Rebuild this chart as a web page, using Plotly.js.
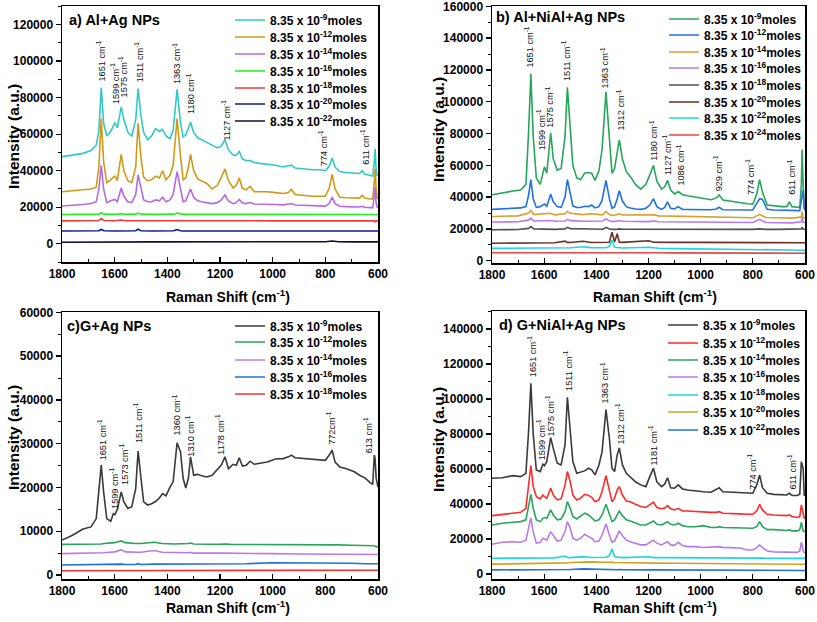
<!DOCTYPE html>
<html><head><meta charset="utf-8">
<script src="https://cdn.plot.ly/plotly-3.0.1.min.js"></script>
<style>html,body{margin:0;padding:0;background:#fff;}#chart{width:817px;height:622px;}</style>
</head><body><div id="chart"></div>
<script>
// ---------- DATA ----------
const shift = [1800,1760,1720,1690,1670,1660,1651,1642,1630,1615,1605,1599,1590,
 1575,1565,1550,1535,1520,1511,1500,1490,1475,1460,1445,1430,1418,
 1405,1390,1378,1363,1350,1340,1330,1320,1312,1300,1285,1270,1250,
 1230,1210,1195,1181,1168,1150,1138,1127,1115,1100,1086,1070,1050,
 1020,990,960,940,929,915,880,850,820,800,785,774,763,
 745,720,690,670,660,650,630,620,614,611,607,603,600];
const shiftCoarse = [1800,1700,1660,1651,1640,1600,1575,1560,1520,1511,1500,1450,
 1420,1375,1363,1350,1340,1330,1320,1312,1300,1200,1180,1160,
 1100,1000,900,800,774,750,700,650,614,611,607,600];

// panel a
const aCyan = [47700,48500,49500,51000,54000,62000,85500,66000,59000,61500,64500,66400,63500,
 75000,68000,61000,59000,68000,85000,70000,61000,57000,59000,63000,61500,62500,
 59000,57500,62000,84500,66000,58500,59500,63000,66500,61000,58000,57000,55500,
 54000,52500,53500,57000,51500,48500,48500,50500,46500,45500,45500,44500,44000,
 43500,43000,42000,42500,43000,41500,41000,40500,40500,40000,42500,47000,42000,
 39500,39000,38500,38500,40000,38000,37500,37000,45000,52000,40000,37000,38000];
const aGold = [28500,29000,29500,30000,31000,42000,68500,45000,33500,35000,36500,37000,34500,
 49000,40000,34500,33500,42000,66000,47000,36500,34500,35000,37000,36000,40000,
 35000,37500,43000,68500,48000,35000,36000,42000,49000,40000,35500,34500,33000,
 30000,32000,36500,41000,34500,30500,32000,36000,30500,29500,31500,28500,28500,
 28500,28000,27500,28000,29800,27000,26500,26000,26000,26000,30500,38000,30000,
 25500,25200,25000,25000,26500,25000,24500,24500,34000,41000,30000,25000,25000];
const aViolet = [20700,21000,21500,22000,23000,30000,43000,30000,22500,23500,24000,24300,23000,
 30500,26000,23000,22500,27000,37700,30000,24000,23000,23000,24000,23500,25500,
 23000,24000,27000,39500,29000,23000,23500,27000,30000,25500,23500,23000,22500,
 22000,22500,24000,26700,23500,22000,22500,24300,22300,22000,22600,21800,21800,
 21600,21500,21300,21500,22000,21200,21000,20800,20700,20600,22000,25500,22000,
 20500,20300,20200,20100,20500,20000,19800,19800,26000,31000,22000,20000,20000];
const aLime = [16000,16100,16200,17000,16200,16100,16400,16100,16200,16800,16200,16100,
 16200,16200,16800,16200,16100,16100,16100,16300,16100,16100,16200,16100,
 16100,16100,16000,16000,16200,16000,16000,16000,16100,16300,16000,16000];
const aRed = [12500,12600,12700,13800,12700,12600,13000,12600,12600,12900,12600,12600,
 12600,12600,13000,12600,12600,12600,12600,12700,12600,12600,12600,12600,
 12600,12500,12500,12500,12600,12500,12500,12500,12500,12000,12500,12500];
const aNavy = [7000,7000,7100,7800,7100,7000,7100,7000,7100,8000,7100,7000,
 7000,7100,7800,7100,7000,7000,7000,7100,7000,7000,7000,7000,
 7000,7000,7000,7000,7000,7000,7000,7000,7000,7100,7000,7000];
const aBlack = [800,900,1000,1200,1000,1000,1100,1000,1100,1200,1100,1000,
 1000,1000,1200,1000,1000,1000,1000,1100,1000,1100,1100,1000,
 1000,1000,1000,1100,1500,1100,1000,1000,1000,1200,1000,1000];

// panel b
const bGreen = [41500,42800,43800,44500,48000,80000,117500,78000,52000,48000,54000,59000,55000,
 80500,64000,57000,58000,78000,109000,84000,60000,52000,51000,55000,55500,55000,
 50500,56500,70000,106000,73000,55000,58000,68000,76000,64000,56000,53000,48000,
 45000,48000,54000,60000,50000,45000,46500,50500,44500,42000,43500,41500,40800,
 40000,39200,38300,39500,41300,38200,37200,36500,35800,35600,42000,51000,43000,
 35000,34500,34000,34000,37000,34000,33500,33500,48000,70000,48000,33000,33000];
const bBlue = [32300,32600,32900,33200,34000,41000,51000,39000,33500,34000,35000,35700,34200,
 41800,37000,34000,33500,40000,51000,43000,34500,33500,33500,34200,34000,35000,
 33200,34000,38000,50500,39000,33000,34000,39000,44000,37500,34000,33200,32500,
 32300,33000,35000,39000,34000,32300,33500,37000,33000,32500,34000,32300,32200,
 32200,32000,32000,32500,33600,32000,32000,31900,31900,31900,36000,39000,38500,
 32300,31900,31800,31700,32000,31600,31500,31500,38000,42000,44500,33000,31500];
const bGold = [27800,28200,30000,31500,29000,29500,29800,28800,29500,31000,29800,29000,
 29500,28800,31000,29000,28500,28600,29000,29500,28700,28500,28800,28200,
 28000,27800,27500,27000,29000,27200,27000,26800,27500,31000,27000,26500];
const bViolet = [24300,24500,25500,26800,25000,25000,25300,24800,25000,26000,25200,24800,
 25000,25000,26300,25000,24700,24700,24900,25300,24800,24600,25000,24500,
 24400,24300,24200,24000,26000,24000,23900,23800,24500,27000,24000,24000];
const bGray = [19500,19600,20300,21500,20000,19800,20000,19700,20000,21000,20200,19800,
 19900,19800,21000,19900,19700,19700,19800,20000,19800,19700,19900,19700,
 19700,19700,19700,19700,20000,19700,19700,19700,20000,21000,19800,19700];
const bBrown = [11000,11200,11300,11300,11300,11300,11400,11300,12300,11500,11400,12200,
 11400,11500,11500,11600,18000,11800,17000,11600,11500,12500,11600,11500,
 11500,11500,11500,11500,11500,11500,11600,11400,11400,11500,11300,11300];
const bCyan = [7800,7900,7900,7900,7900,7800,7800,7800,8300,8200,8100,8800,
 8200,8100,8200,9000,13000,8500,8200,8100,8000,8500,8000,7800,
 7600,7500,7300,7200,7200,7000,6800,6700,6600,6600,6500,6500];
const bRed = [5000,5000,5100,5400,5100,5000,5000,5000,5100,5300,5100,5100,
 5000,5000,5300,5100,5000,5000,5000,5100,5000,5000,5000,5000,
 4900,4900,4900,4800,4800,4800,4800,4800,4800,4800,4800,4700];

// panel c
const cBlack = [8000,9100,10500,11000,12900,19000,25100,19000,12900,12300,14000,13800,15000,
 19000,16700,15200,15600,19800,28300,22100,16700,16000,16300,16800,17600,18600,
 18100,20100,21300,30200,28100,22100,19900,22100,27000,22800,23000,22700,22400,
 22800,24000,25100,27000,24300,25300,25100,26800,24900,25100,26000,25300,25500,
 25800,26500,26600,27000,27400,26800,26600,26500,26200,26200,27400,28500,25800,
 24700,24300,23600,22800,22500,22200,21100,20700,27400,26600,22100,21300,20100];
const cGreen = [7000,7000,7100,7100,7200,7400,7800,7400,7200,7200,7200,7500,
 7200,7100,7100,7100,7100,7100,7200,7300,7100,7000,7100,7000,
 7000,7000,6900,6900,7000,6900,6800,6800,6700,6600,6400,6600];
const cViolet = [4900,5000,5000,5100,5100,5300,5800,5300,5100,5200,5200,5600,
 5200,5100,5100,5100,5000,5000,5100,5200,5000,5000,5000,4900,
 4900,4900,4800,4800,4800,4800,4700,4700,4700,4700,4700,4700];
const cBlue = [2300,2400,2400,2500,2400,2400,2500,2400,2400,2600,2400,2500,
 2500,2500,2500,2500,2500,2500,2500,2600,2500,2600,2600,2600,
 2600,2800,2800,2800,2800,2800,2700,2600,2600,2600,2600,2600];
const cRed = [1000,1000,1000,1050,1000,1000,1100,1000,1000,1050,1000,1100,
 1000,1000,1050,1000,1000,1000,1000,1000,1000,1100,1000,1000,
 1100,1100,1100,1100,1100,1100,1100,1100,1100,1100,1100,1100];

// panel d
const dBlack = [54700,55000,56200,55600,57500,81000,109000,80000,59400,58500,62700,61900,64200,
 77900,71800,63300,62300,73700,101000,81300,64200,57500,58000,58900,60400,59500,
 56600,62300,69900,94000,77500,60400,58500,68000,72000,62300,57500,55600,52700,
 50900,49900,55600,60400,52700,49900,51300,55000,49300,49000,50900,48600,48000,
 47400,47000,46700,48600,49300,47000,46700,46600,46500,46100,50900,56600,49300,
 46100,45500,45400,45100,46100,44900,44800,45500,64200,62000,60400,45000,44900];
const dRed = [33300,34100,34700,35200,37500,50900,62000,50000,44200,42900,45100,44200,43300,
 49000,45100,42300,42900,50900,58500,52700,45100,42300,43300,45500,44900,43800,
 41300,42300,47100,56200,47100,41300,43300,48000,49900,45100,41700,41300,39800,
 38500,38000,39500,41000,38000,37300,37600,39000,37300,36600,37500,36000,36000,
 35600,35200,35200,35200,35600,34700,34700,34300,34100,34100,36000,39800,36600,
 34100,33700,33300,33300,33700,32800,32300,32800,39500,37500,33300,31900,31900];
const dGreen = [28000,29000,29500,29900,30900,39400,45500,37500,30900,29900,31800,32200,31800,
 36600,33700,30900,31400,35600,41300,37500,32800,31400,33300,34700,33700,31800,
 30300,30900,33700,39800,33700,29900,30900,34100,36000,33300,30900,30300,29000,
 28000,28000,29000,30300,28400,28000,29000,29900,28400,28000,29000,27600,27000,
 27000,27600,26500,26500,27000,26500,26500,26100,26100,26100,27000,29900,27000,
 25300,25300,25100,24800,25300,24600,24600,25300,29500,28000,24600,24300,24300];
const dViolet = [17000,18100,18400,18100,19300,26100,32000,24000,17600,18100,20400,20000,19300,
 24200,22300,18800,19300,24200,29900,26100,20400,19300,20400,22700,21300,20400,
 18400,18800,22300,28500,22300,18100,18800,22300,24600,21900,19300,18400,17600,
 16600,16600,18100,19300,17600,16600,17600,18400,16600,16300,18100,16300,15600,
 15600,15100,15200,15200,15600,15200,14800,14800,13700,13700,15000,16600,15000,
 13100,12600,12600,12600,12600,12300,12300,13100,18100,16600,13100,12300,12200];
const dCyan = [9000,9100,9100,9200,9100,9200,9200,9200,10200,9400,9300,9900,
 9400,9400,9500,10500,14300,9800,9500,9400,9300,9800,9300,9300,
 9200,9100,9000,9000,9000,9000,9000,8900,8900,8900,8900,8900];
const dGold = [5600,5700,5800,5900,5800,5900,5900,6000,6100,6300,6500,7000,
 6900,6700,6800,6600,6600,6500,6500,6600,6500,6300,6300,6200,
 6100,6000,5900,5800,5900,5700,5600,5600,5600,5600,5500,5500];
const dBlue = [2300,2300,2300,2400,2300,2300,2400,2300,2400,2500,2500,2900,
 2700,2500,2600,2500,2500,2400,2400,2500,2400,2300,2300,2300,
 2200,2200,2100,2100,2200,2100,2000,2000,2100,2100,2000,2000];

// legend labels
const exponentsA = ['-9','-12','-14','-16','-18','-20','-22'];
const exponentsB = ['-9','-12','-14','-16','-18','-20','-22','-24'];
const exponentsC = ['-9','-12','-14','-16','-18'];
const exponentsD = ['-9','-12','-14','-16','-18','-20','-22'];

// peak labels
const peakTextA = ['1651','1599','1575','1511','1363','1180','1127','774','611'];
const peakTextB = ['1651','1599','1575','1511','1363','1312','1180','1127','1086','929','774','611'];
const peakTextC = ['1651 cm','1599 cm','1573 cm','1511 cm','1360 cm','1310 cm','1178 cm','772cm','613 cm'];
const peakTextD = ['1651','1599','1575','1511','1363','1312','1181','774','611'];

const panelTitles = ['a) Al+Ag NPs','b) Al+NiAl+Ag NPs','c)G+Ag NPs','d) G+NiAl+Ag NPs'];

// ---------- BUILD ----------
const FONT = 'Liberation Sans, Arial, sans-serif';
const W = 817, H = 622;
const fx = v => v / W, fy = v => 1 - v / H;

const layout = {
  width: W, height: H, margin: {l:0, r:0, t:0, b:0, autoexpand:false},
  paper_bgcolor: '#fff', plot_bgcolor: '#fff', showlegend: true,
  annotations: []
};
const axisBase = {
  showline: true, linecolor: '#000', linewidth: 1.5, mirror: true,
  showgrid: false, zeroline: false, tickcolor: '#000', tickwidth: 1.3, ticklen: 5,
  ticklabeloverflow: 'allow',
  tickfont: {family: FONT, size: 12, color: '#000', weight: 'bold'}
};
function xAxis(dom, anchor) {
  return Object.assign({}, axisBase, {domain: dom, anchor: anchor, range: [1800, 600],
    ticks: 'inside', tick0: 600, dtick: 200, ticklabelstandoff: 0,
    minor: {ticks: 'inside', dtick: 100, ticklen: 3, tickwidth: 1, tickcolor: '#000'}});
}
function yAxis(dom, anchor, range, dtick) {
  return Object.assign({}, axisBase, {domain: dom, anchor: anchor, range: range,
    ticks: 'outside', tick0: 0, dtick: dtick, tickformat: 'd',
    minor: {ticks: 'outside', dtick: dtick / 2, ticklen: 3, tickwidth: 1, tickcolor: '#000'}});
}
const xdomL = [fx(62), fx(378)], xdomR = [fx(492), fx(805)];
layout.xaxis  = xAxis(xdomL, 'y');
layout.yaxis  = yAxis([fy(262), fy(6)], 'x', [-10000, 130200], 20000);
layout.xaxis2 = xAxis(xdomR, 'y2');
layout.yaxis2 = yAxis([fy(263), fy(6)], 'x2', [-1450, 160200], 20000);
layout.xaxis3 = xAxis(xdomL, 'y3');
layout.yaxis3 = yAxis([fy(579), fy(312)], 'x3', [-900, 60080], 10000);
layout.xaxis4 = xAxis(xdomR, 'y4');
layout.yaxis4 = yAxis([fy(579), fy(311)], 'x4', [-2900, 150300], 20000);

const panels = [
  {xa:'x', ya:'y', exps: exponentsA, sx: 230, rows: [20,37,54,71,88,104,121],
   series: [[shift,aCyan,'#2FC9C9'],[shift,aGold,'#D09A17'],[shift,aViolet,'#B36AE2'],
            [shiftCoarse,aLime,'#22EE22'],[shiftCoarse,aRed,'#F23A3A'],[shiftCoarse,aNavy,'#0A1A9A'],[shiftCoarse,aBlack,'#101030']]},
  {xa:'x2', ya:'y2', exps: exponentsB, sx: 664, rows: [19,35,52,68,85,102,118,135],
   series: [[shift,bGreen,'#27A55A'],[shift,bBlue,'#2070E0'],[shiftCoarse,bGold,'#D9A030'],[shiftCoarse,bViolet,'#B77BE8'],
            [shiftCoarse,bGray,'#505050'],[shiftCoarse,bBrown,'#6E2E22'],[shiftCoarse,bCyan,'#1ED6E0'],[shiftCoarse,bRed,'#EE4444']]},
  {xa:'x3', ya:'y3', exps: exponentsC, sx: 230, rows: [326,342,360,377,394],
   series: [[shift,cBlack,'#3A3A3A'],[shiftCoarse,cGreen,'#27A55A'],[shiftCoarse,cViolet,'#B77BE8'],
            [shiftCoarse,cBlue,'#2070E0'],[shiftCoarse,cRed,'#EE3333']]},
  {xa:'x4', ya:'y4', exps: exponentsD, sx: 663, rows: [325,343,360,377,395,412,430],
   series: [[shift,dBlack,'#3A3A3A'],[shift,dRed,'#FF2A2A'],[shift,dGreen,'#27A55A'],[shift,dViolet,'#B77BE8'],
            [shiftCoarse,dCyan,'#1ED6E0'],[shiftCoarse,dGold,'#D4A020'],[shiftCoarse,dBlue,'#2070E0']]}
];

const traces = [];
let nLeg = 0;
panels.forEach(p => {
  p.series.forEach((s, i) => {
    nLeg++;
    const key = nLeg === 1 ? 'legend' : 'legend' + nLeg;
    traces.push({type: 'scatter', mode: 'lines', x: s[0], y: s[1], xaxis: p.xa, yaxis: p.ya,
      name: '8.35 x 10<sup>' + p.exps[i] + '</sup>moles', legend: key,
      line: {color: s[2], width: 1.6}, hoverinfo: 'skip'});
    layout[key] = {x: fx(p.sx), y: fy(p.rows[i]), xanchor: 'left', yanchor: 'middle',
      bgcolor: 'rgba(0,0,0,0)', borderwidth: 0, itemwidth: 30, tracegroupgap: 0,
      font: {family: FONT, size: 12, color: '#000', weight: 'bold'}};
  });
});

// peak label positions (x in cm-1, y at label bottom)
function peak(xa, ya, text, x, y) {
  layout.annotations.push({xref: xa, yref: ya, x: x, y: y, text: text, showarrow: false,
    textangle: -90, xanchor: 'center', yanchor: 'bottom',
    font: {family: FONT, size: 9.2, color: '#111'}});
}
const posA = [[1651,87600],[1599,75600],[1568,78800],[1507,87100],[1364,86500],[1311,70100],[1176,55300],[808,41500],[650,42100]];
peakTextA.forEach((t, i) => peak('x', 'y', t + ' cm<sup>-1</sup>', posA[i][0], posA[i][1]));
const posB = [[1658,119900],[1609,68400],[1581,82200],[1514,111800],[1367,107400],[1309,80300],[1182,61400],[1130,52600],[1079,45700],[932,42600],[811,40000],[651,40000]];
peakTextB.forEach((t, i) => peak('x2', 'y2', t + ' cm<sup>-1</sup>', posB[i][0], posB[i][1]));
const posC = [[1649,25800],[1605,14600],[1567,20100],[1513,29700],[1367,31300],[1314,26700],[1200,26900],[776,29200],[637,27400]];
peakTextC.forEach((t, i) => peak('x3', 'y3', t + '<sup>-1</sup>', posC[i][0], posC[i][1]));
const posD = [[1648,111400],[1609,64000],[1578,77700],[1511,103400],[1367,96600],[1309,72600],[1182,60600],[804,46900],[651,46900]];
peakTextD.forEach((t, i) => peak('x4', 'y4', t + ' cm<sup>-1</sup>', posD[i][0], posD[i][1]));

// panel titles
const titlePos = [[67,20],[494,17],[65,326],[497,325]];
panelTitles.forEach((t, i) => layout.annotations.push({xref:'paper', yref:'paper',
  x: fx(titlePos[i][0]), y: fy(titlePos[i][1]), xanchor:'left', yanchor:'middle', text: t,
  showarrow:false, font:{family: FONT, size: 14.5, color:'#000', weight:'bold'}}));

// axis titles
const yTitlePos = [[13,137],[438,130],[13,438],[438,440]];
const xTitlePos = [[228,296],[655,296],[228,607],[655,607]];
yTitlePos.forEach(p => layout.annotations.push({xref:'paper', yref:'paper', x: fx(p[0]), y: fy(p[1]),
  text:'Intensity (a.u.)', textangle:-90, showarrow:false, xanchor:'center', yanchor:'middle',
  font:{family: FONT, size: 15.5, color:'#000', weight:'bold'}}));
xTitlePos.forEach(p => layout.annotations.push({xref:'paper', yref:'paper', x: fx(p[0]), y: fy(p[1]),
  text:'Raman Shift (cm<sup>-1</sup>)', showarrow:false, xanchor:'center', yanchor:'middle',
  font:{family: FONT, size: 14, color:'#000', weight:'bold'}}));

Plotly.newPlot('chart', traces, layout, {staticPlot: true, displayModeBar: false});
</script></body></html>
